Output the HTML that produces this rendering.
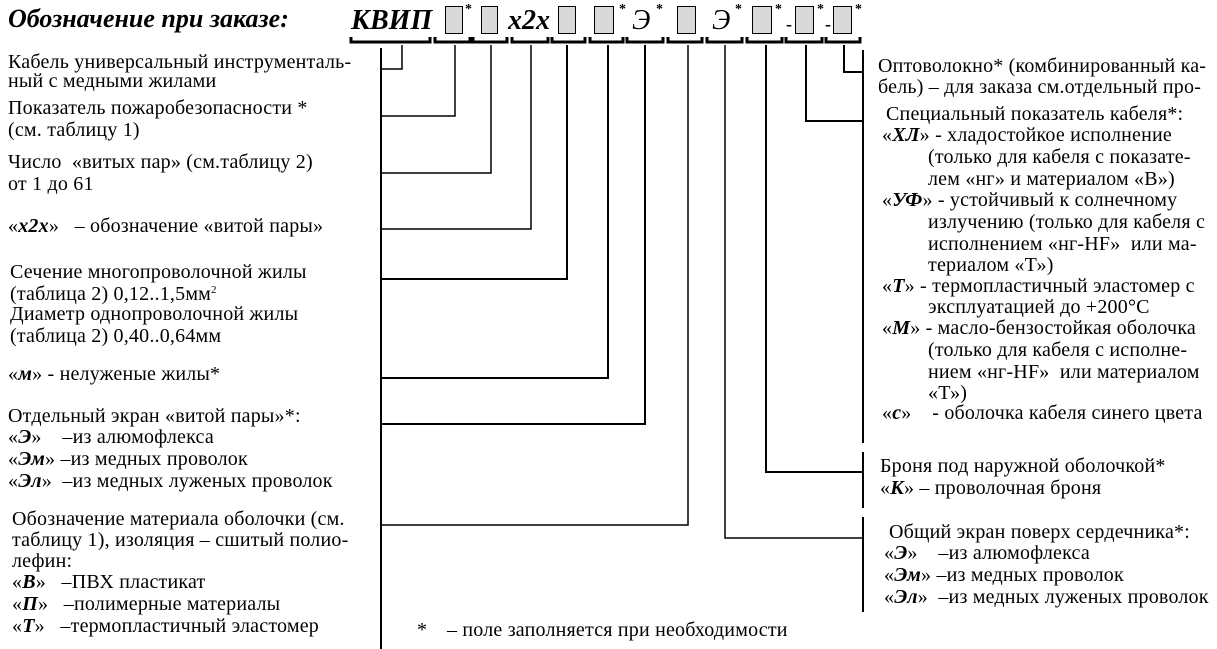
<!DOCTYPE html>
<html><head><meta charset="utf-8"><style>
body{margin:0;width:1217px;height:649px;background:#fff;position:relative;overflow:hidden;font-family:"Liberation Serif","DejaVu Serif",serif;color:#000}
.t{position:absolute;font-size:20px;letter-spacing:0.2px;line-height:20px;white-space:nowrap}
b{font-style:italic}
sup{font-size:11px;line-height:0;position:relative;top:-7px;vertical-align:baseline}
.h{position:absolute;font-weight:bold;font-style:italic;white-space:nowrap}
.box{position:absolute;top:6px;height:28px;background:#d9d9d9;border:1px solid #000;box-sizing:border-box}
.st{position:absolute;top:2px;font-size:14px;font-weight:bold}
</style></head><body>
<div class="h" style="left:8px;top:4px;font-size:26px;line-height:30px">Обозначение при заказе:</div>
<div class="h" style="left:351px;top:3px;font-size:28px;line-height:36px;letter-spacing:0px">КВИП</div>
<div class="box" style="left:445px;width:18px"></div><div class="st" style="left:465px">*</div>
<div class="box" style="left:481px;width:17px"></div>
<div class="h" style="left:508px;top:3px;font-size:28px;line-height:36px">x2x</div>
<div class="box" style="left:558px;width:18px"></div>
<div class="box" style="left:594px;width:20px"></div><div class="st" style="left:619px">*</div>
<div class="h" style="left:632px;top:3px;font-size:28px;line-height:36px;font-weight:normal">Э</div><div class="st" style="left:656px">*</div>
<div class="box" style="left:677px;width:19px"></div>
<div class="h" style="left:712px;top:3px;font-size:28px;line-height:36px;font-weight:normal">Э</div><div class="st" style="left:735px">*</div>
<div class="box" style="left:752px;width:20px"></div><div class="st" style="left:775px">*</div>
<div class="st" style="left:786px;top:14px;font-size:18px">-</div>
<div class="box" style="left:795px;width:19px"></div><div class="st" style="left:817px">*</div>
<div class="st" style="left:825px;top:14px;font-size:18px">-</div>
<div class="box" style="left:833px;width:19px"></div><div class="st" style="left:855px">*</div>

<svg width="1217" height="649" style="position:absolute;left:0;top:0" fill="none" stroke="#000" stroke-width="2">
<g stroke-width="3">
<path d="M351 37v5h79v-5"/><path d="M435 37v5h35v-5"/><path d="M473 37v5h34v-5"/><path d="M512 37v5h36v-5"/><path d="M552 37v5h33v-5"/><path d="M590 37v5h33v-5"/><path d="M627 37v5h36v-5"/><path d="M668 37v5h34v-5"/><path d="M707 37v5h35v-5"/><path d="M747 37v5h35v-5"/><path d="M786 37v5h36v-5"/><path d="M826 37v5h34v-5"/>
</g>
<path d="M381 48V649"/>
<path d="M402 45V69H381" stroke-width="1.5"/>
<path d="M455 45V116H381" stroke-width="1.5"/>
<path d="M491 45V173H381" stroke-width="1.5"/>
<path d="M531 45V229H381" stroke-width="1.5"/>
<path d="M567 45V279H381"/>
<path d="M608 45V378H381"/>
<path d="M645 45V424H381"/>
<path d="M688 45V525H381" stroke-width="1.5"/>
<path d="M725 45V538H863" stroke-width="1.5"/>
<path d="M766 45V472H863"/>
<path d="M806 45V121H863"/>
<path d="M844 45V72H863"/>
<path d="M863 50V104M863 100V443M863 452V508M863 517V612"/>
</svg>

<div class="t" style="left:8px;top:52px">Кабель универсальный инструменталь-</div>
<div class="t" style="left:8px;top:71px">ный с медными жилами</div>
<div class="t" style="left:8px;top:98px">Показатель пожаробезопасности *</div>
<div class="t" style="left:8px;top:120px">(см. таблицу 1)</div>
<div class="t" style="left:8px;top:152px">Число &nbsp;«витых пар» (см.таблицу 2)</div>
<div class="t" style="left:8px;top:174px">от 1 до 61</div>
<div class="t" style="left:8px;top:216px">«<b>х2х</b>» &nbsp;&nbsp;– обозначение «витой пары»</div>
<div class="t" style="left:10px;top:262px">Сечение многопроволочной жилы</div>
<div class="t" style="left:10px;top:284px">(таблица 2) 0,12..1,5мм<sup>2</sup></div>
<div class="t" style="left:10px;top:304px">Диаметр однопроволочной жилы</div>
<div class="t" style="left:10px;top:326px">(таблица 2) 0,40..0,64мм</div>
<div class="t" style="left:8px;top:364px">«<b>м</b>» - нелуженые жилы*</div>
<div class="t" style="left:8px;top:406px">Отдельный экран «витой пары»*:</div>
<div class="t" style="left:8px;top:427px">«<b>Э</b>» &nbsp;&nbsp;&nbsp;–из алюмофлекса</div>
<div class="t" style="left:8px;top:449px">«<b>Эм</b>» –из медных проволок</div>
<div class="t" style="left:8px;top:471px">«<b>Эл</b>» &nbsp;–из медных луженых проволок</div>
<div class="t" style="left:12px;top:509px">Обозначение материала оболочки (см.</div>
<div class="t" style="left:12px;top:530px">таблицу 1), изоляция – сшитый полио-</div>
<div class="t" style="left:12px;top:551px">лефин:</div>
<div class="t" style="left:12px;top:572px">«<b>В</b>» &nbsp;&nbsp;–ПВХ пластикат</div>
<div class="t" style="left:12px;top:594px">«<b>П</b>» &nbsp;&nbsp;–полимерные материалы</div>
<div class="t" style="left:12px;top:616px">«<b>Т</b>» &nbsp;&nbsp;–термопластичный эластомер</div>
<div class="t" style="left:417px;top:620px">*</div>
<div class="t" style="left:447px;top:620px">– поле заполняется при необходимости</div>

<div class="t" style="left:878px;top:56px">Оптоволокно* (комбинированный ка-</div>
<div class="t" style="left:878px;top:77px">бель) – для заказа см.отдельный про-</div>
<div class="t" style="left:886px;top:104px">Специальный показатель кабеля*:</div>
<div class="t" style="left:882px;top:125px">«<b>ХЛ</b>» - хладостойкое исполнение</div>
<div class="t" style="left:928px;top:147px">(только для кабеля с показате-</div>
<div class="t" style="left:928px;top:169px">лем «нг» и материалом «В»)</div>
<div class="t" style="left:882px;top:190px">«<b>УФ</b>» - устойчивый к солнечному</div>
<div class="t" style="left:928px;top:212px">излучению (только для кабеля с</div>
<div class="t" style="left:928px;top:234px">исполнением «нг-HF» &nbsp;или ма-</div>
<div class="t" style="left:928px;top:255px">териалом «Т»)</div>
<div class="t" style="left:882px;top:276px">«<b>Т</b>» - термопластичный эластомер с</div>
<div class="t" style="left:928px;top:297px">эксплуатацией до +200°С</div>
<div class="t" style="left:882px;top:318px">«<b>М</b>» - масло-бензостойкая оболочка</div>
<div class="t" style="left:928px;top:340px">(только для кабеля с исполне-</div>
<div class="t" style="left:928px;top:362px">нием «нг-HF» &nbsp;или материалом</div>
<div class="t" style="left:928px;top:383px">«Т»)</div>
<div class="t" style="left:882px;top:403px">«<b>с</b>» &nbsp;&nbsp;&nbsp;- оболочка кабеля синего цвета</div>
<div class="t" style="left:880px;top:456px">Броня под наружной оболочкой*</div>
<div class="t" style="left:880px;top:478px">«<b>К</b>» – проволочная броня</div>
<div class="t" style="left:889px;top:522px">Общий экран поверх сердечника*:</div>
<div class="t" style="left:884px;top:543px">«<b>Э</b>» &nbsp;&nbsp;&nbsp;–из алюмофлекса</div>
<div class="t" style="left:884px;top:565px">«<b>Эм</b>» –из медных проволок</div>
<div class="t" style="left:884px;top:587px">«<b>Эл</b>» &nbsp;–из медных луженых проволок</div>
</body></html>
